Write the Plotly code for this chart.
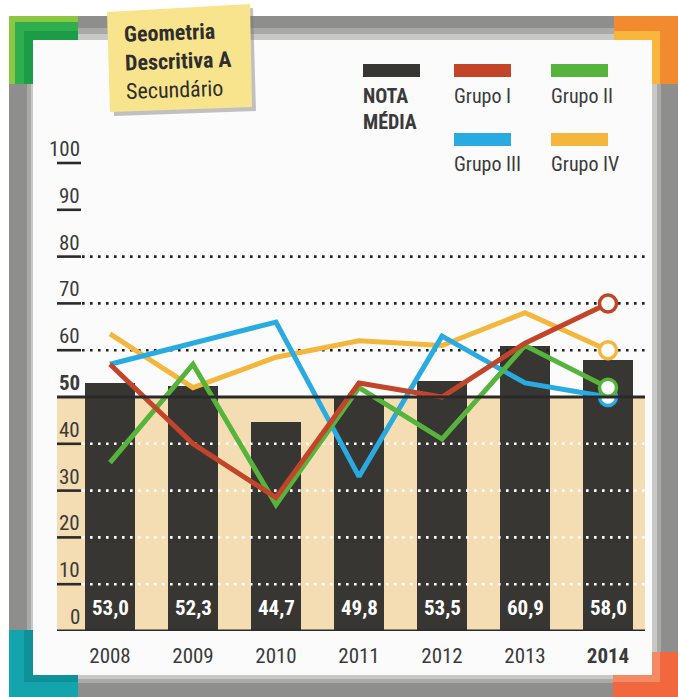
import plotly.graph_objects as go

# ---------------- data ----------------
years = [2008, 2009, 2010, 2011, 2012, 2013, 2014]
nota_media = [53.0, 52.3, 44.7, 49.8, 53.5, 60.9, 58.0]
grupo_i = [57, 40, 28.5, 53, 50, 61.5, 70]
grupo_ii = [36, 57, 27, 52, 41, 61, 52]
grupo_iii = [57, 61.5, 66, 33, 63, 53, 50]
grupo_iv = [63.5, 52, 58.5, 62, 61, 68, 60]
y_ticks = [0, 10, 20, 30, 40, 50, 60, 70, 80, 90, 100]
year_labels = ["2008", "2009", "2010", "2011", "2012", "2013", "<b>2014</b>"]
title_lines = ["Geometria", "Descritiva A", "Secundário"]
legend_names = ["NOTA<br>MÉDIA", "Grupo I", "Grupo II", "Grupo III", "Grupo IV"]

# ---------------- style ----------------
W, H = 678, 697
FONT = "Liberation Sans Narrow, Roboto Condensed, Roboto, sans-serif"
TXT = "#3a3a3a"
C_BAR = "#383633"
C_BEIGE = "#f4ddb2"
C_RED = "#c2452a"
C_GREEN = "#56b33c"
C_BLUE = "#29aae1"
C_YEL = "#f3b73d"

def px(x):
    return x / W

def py(y):
    return 1 - y / H

# plot area in pixels
X_L, X_R = 57, 645
Y_ZERO, Y_TOP = 631, 140
PX_PER_UNIT = 4.68
PX_PER_YEAR = 83.0
X0_CENTER = 110
x_range = [years[0] - (X0_CENTER - X_L) / PX_PER_YEAR,
           years[-1] + (X_R - (X0_CENTER + PX_PER_YEAR * (len(years) - 1))) / PX_PER_YEAR]
y_range = [0, (Y_ZERO - Y_TOP) / PX_PER_UNIT]

fig = go.Figure()

# bars
fig.add_trace(go.Bar(x=years, y=nota_media, marker=dict(color=C_BAR, line=dict(width=0)),
                     width=0.6, showlegend=False, hoverinfo="skip"))

# dotted guide lines (white in lower part, black in upper part)
x_dot = [x_range[0] + (82 - X_L) / PX_PER_YEAR, x_range[1]]
for v in y_ticks:
    if v in (0, 50, 90, 100):
        continue
    col = "white" if v < 50 else "#222222"
    fig.add_trace(go.Scatter(x=x_dot, y=[v, v], mode="lines",
                             line=dict(color=col, width=2.6, dash="2.6px,5.4px"),
                             showlegend=False, hoverinfo="skip"))

# group lines (order: yellow, blue, green, red on top)
for vals, col in [(grupo_iv, C_YEL), (grupo_iii, C_BLUE), (grupo_ii, C_GREEN), (grupo_i, C_RED)]:
    fig.add_trace(go.Scatter(x=years, y=vals, mode="lines",
                             line=dict(color=col, width=5),
                             showlegend=False, hoverinfo="skip"))
for vals, col in [(grupo_iv, C_YEL), (grupo_iii, C_BLUE), (grupo_ii, C_GREEN), (grupo_i, C_RED)]:
    fig.add_trace(go.Scatter(x=years[-1:], y=vals[-1:], mode="markers",
                             marker=dict(size=17, color="white", line=dict(color=col, width=3.5)),
                             showlegend=False, hoverinfo="skip"))

shapes = []

def rect(x0, y0, x1, y1, color):
    shapes.append(dict(type="rect", xref="paper", yref="paper", x0=px(x0), x1=px(x1), y0=py(y1), y1=py(y0),
                       fillcolor=color, line_width=0, layer="below"))

# frame: gray band with lighter inner shadow strip
rect(9, 16, 678, 697, "#8e8e8c")
rect(27, 28, 661, 683, "#a9a9a7")
rect(31, 34, 657, 679, "#c8c8c6")

def corner_L(xa, xb, ya, yb, xc, xd, yc, yd, color):
    rect(xa, ya, xb, yb, color)
    rect(xc, yc, xd, yd, color)

# top-left green
corner_L(9, 78, 16, 40, 9, 33, 16, 84, "#8dc640")
corner_L(15, 78, 22, 40, 15, 33, 22, 84, "#2fae4f")
corner_L(24, 78, 31, 40, 24, 33, 31, 84, "#1d9c47")
# top-right orange
corner_L(614, 678, 16, 40, 655, 678, 16, 84, "#f28a30")
corner_L(614, 660, 31, 40, 650, 660, 31, 84, "#f8b63c")
# bottom-left teal
corner_L(9, 78, 677, 697, 9, 33, 630, 697, "#14a4ad")
corner_L(24, 78, 672, 682, 24, 33, 630, 682, "#0e9198")
# bottom-right orange-red
corner_L(613, 678, 677, 697, 655, 678, 652, 697, "#f2683e")
corner_L(613, 660, 672, 682, 651, 660, 652, 682, "#f48a63")
# inner white panel
rect(33, 40, 652, 675, "#fbfbfb")

# title note (slightly rotated) with shadow
def quad(pts, color):
    path = "M " + " L ".join(f"{px(x):.5f},{py(y):.5f}" for x, y in pts) + " Z"
    shapes.append(dict(type="path", xref="paper", yref="paper", path=path,
                       fillcolor=color, line_width=0, layer="below"))

quad([(110, 16), (253, 8), (256, 111), (114, 116)], "rgba(120,120,120,0.45)")
quad([(107, 12), (250, 4), (252, 107), (110, 112)], "#f8e48c")

# beige lower background in data coords
shapes.append(dict(type="rect", xref="x", yref="y", x0=x_range[0], x1=x_range[1], y0=0, y1=50,
                   fillcolor=C_BEIGE, line_width=0, layer="below"))
# 50 line and baseline
shapes.append(dict(type="line", xref="x", yref="y", x0=x_range[0], x1=x_range[1], y0=50, y1=50,
                   line=dict(color="#2a2a2a", width=3), layer="above"))
shapes.append(dict(type="line", xref="x", yref="y", x0=x_range[0], x1=x_range[1], y0=0, y1=0,
                   line=dict(color="#2a2a2a", width=3), layer="above"))
# short underlines under tick labels
x_ul = x_range[0] + (81 - X_L) / PX_PER_YEAR
for v in y_ticks:
    if v in (0, 50):
        continue
    shapes.append(dict(type="line", xref="x", yref="y", x0=x_range[0], x1=x_ul, y0=v, y1=v,
                       line=dict(color="#2a2a2a", width=2.6), layer="above"))

# legend swatches
leg = [(363, 64, C_BAR), (454, 64, C_RED), (551, 64, C_GREEN), (454, 133, C_BLUE), (551, 133, C_YEL)]
for (lx, ly, col) in leg:
    rect(lx, ly, lx + 57, ly + 13, col)

annotations = []
# legend texts
leg_txt = [(363, 82, "<b>" + legend_names[0] + "</b>"), (454, 82, legend_names[1]),
           (551, 82, legend_names[2]), (454, 150, legend_names[3]), (551, 150, legend_names[4])]
for (lx, ly, t) in leg_txt:
    annotations.append(dict(xref="paper", yref="paper", x=px(lx - 2), y=py(ly), text=t, showarrow=False,
                            xanchor="left", yanchor="top", align="left",
                            font=dict(family=FONT, size=20, color=TXT)))

# title
annotations.append(dict(xref="paper", yref="paper", x=px(178), y=py(61),
                        text="<b>" + title_lines[0] + "<br>" + title_lines[1] + "</b><br>" + title_lines[2],
                        showarrow=False, xanchor="center", yanchor="middle", align="left", textangle=-2,
                        font=dict(family=FONT, size=22, color="#2e2e2e")))

# y tick labels
for v in y_ticks:
    t = f"<b>{v}</b>" if v == 50 else str(v)
    annotations.append(dict(xref="paper", yref="y", x=px(82), y=v, yshift=0, text=t, showarrow=False,
                            xanchor="right", yanchor="bottom",
                            font=dict(family=FONT, size=21, color=TXT)))

# bar value labels
for yr, v in zip(years, nota_media):
    annotations.append(dict(xref="x", yref="y", x=yr, y=5, text="<b>" + f"{v:.1f}".replace(".", ",") + "</b>",
                            showarrow=False, xanchor="center", yanchor="middle",
                            font=dict(family=FONT, size=21, color="white")))

fig.update_layout(
    width=W, height=H,
    margin=dict(l=0, r=0, t=0, b=0),
    paper_bgcolor="#ffffff",
    plot_bgcolor="rgba(0,0,0,0)",
    shapes=shapes,
    annotations=annotations,
    showlegend=False,
    bargap=0,
    xaxis=dict(domain=[px(X_L), px(X_R)], range=x_range, tickvals=years, ticktext=year_labels,
               showgrid=False, zeroline=False, showline=False, ticks="", ticklabelstandoff=10,
               tickfont=dict(family=FONT, size=21, color=TXT), fixedrange=True),
    yaxis=dict(domain=[py(Y_ZERO), py(Y_TOP)], range=y_range, showgrid=False, zeroline=False,
               showline=False, showticklabels=False, ticks="", fixedrange=True),
)

fig.write_html("out.html")
